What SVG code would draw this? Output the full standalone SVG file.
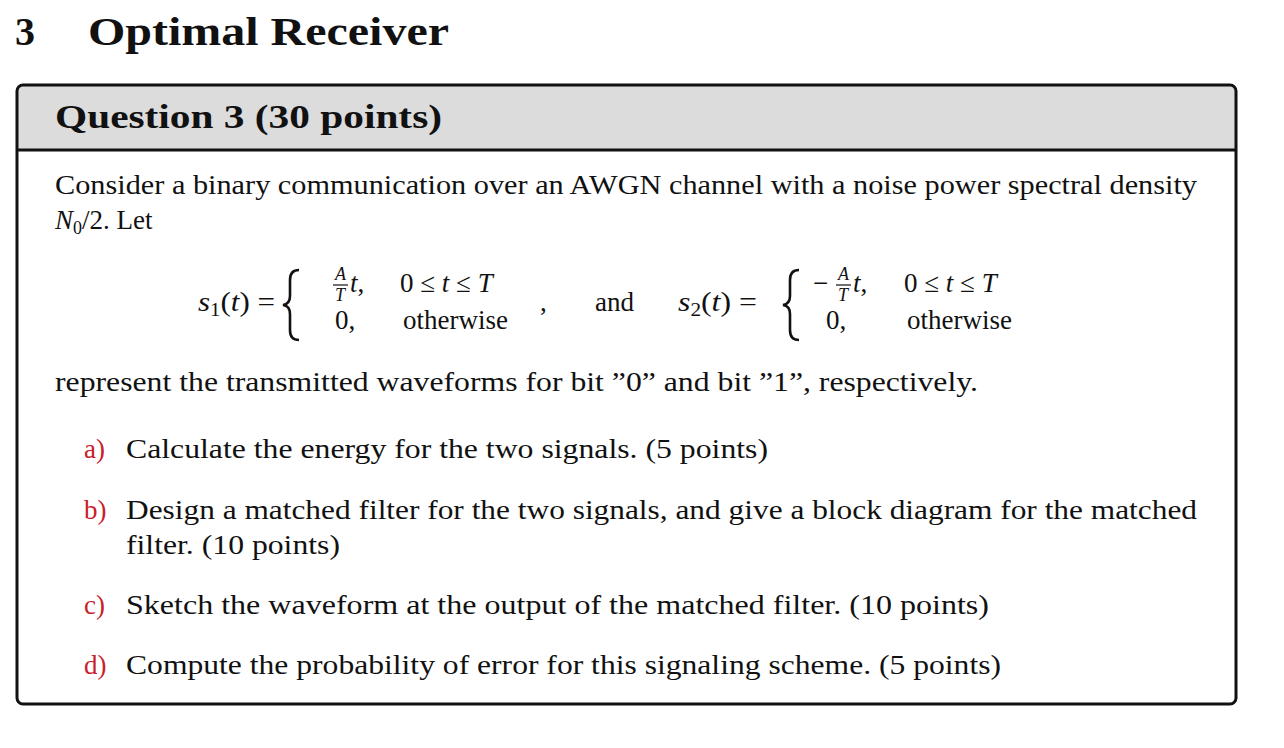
<svg xmlns="http://www.w3.org/2000/svg" width="1284" height="748" viewBox="0 0 1284 748">
<style>
text{font-family:"Liberation Serif","DejaVu Serif",serif;fill:#111}
.b{font-size:27px}
.i{font-style:italic}
.r{fill:#c8202a}
.h{font-weight:bold}
.s{font-size:18px}
.f{font-size:18px}
.br{fill:none;stroke:#111;stroke-width:2.6}
</style>
<rect width="1284" height="748" fill="#fff"/>
<text x="15" y="45" class="h" font-size="40">3</text>
<text x="88" y="45" class="h" font-size="40" textLength="361" lengthAdjust="spacingAndGlyphs">Optimal Receiver</text>
<g id="box">
<path d="M17,150 V91 a6,6 0 0 1 6,-6 H1230 a6,6 0 0 1 6,6 V150 Z" fill="#dcdcdc"/>
<rect x="17" y="85" width="1219" height="619" rx="6" fill="none" stroke="#111" stroke-width="3"/>
<line x1="17" y1="150" x2="1236" y2="150" stroke="#111" stroke-width="3"/>
<text x="55" y="128" class="h" font-size="33" textLength="387" lengthAdjust="spacingAndGlyphs">Question 3 (30 points)</text>
</g>
<text x="55" y="194" class="b" textLength="1142" lengthAdjust="spacingAndGlyphs">Consider a binary communication over an AWGN channel with a noise power spectral density</text>
<text x="55" y="229" class="b"><tspan class="i">N</tspan><tspan class="s" dy="5">0</tspan><tspan dy="-5">/2.  Let</tspan></text>
<g id="eq">
<text x="198" y="311" class="b" textLength="77" lengthAdjust="spacingAndGlyphs"><tspan class="i">s</tspan><tspan class="s" dy="5">1</tspan><tspan dy="-5">(</tspan><tspan class="i">t</tspan>) =</text>
<path class="br" d="M299,270 Q290,270 290,280 V296 Q290,304 283,305 Q290,306 290,314 V330 Q290,340 299,340"/>
<text x="335" y="280" class="f i">A</text><line x1="333" y1="285" x2="348" y2="285" stroke="#111" stroke-width="1.2"/><text x="335" y="301" class="f i">T</text>
<text x="350" y="292" class="b"><tspan class="i">t</tspan>,</text>
<text x="335" y="329" class="b">0,</text>
<text x="400" y="292" class="b">0 ≤ <tspan class="i">t</tspan> ≤ <tspan class="i">T</tspan></text>
<text x="403" y="329" class="b">otherwise</text>
<text x="540" y="311" class="b">,</text>
<text x="595" y="311" class="b">and</text>
<text x="678" y="311" class="b" textLength="79" lengthAdjust="spacingAndGlyphs"><tspan class="i">s</tspan><tspan class="s" dy="5">2</tspan><tspan dy="-5">(</tspan><tspan class="i">t</tspan>) =</text>
<path class="br" d="M799,270 Q790,270 790,280 V296 Q790,304 783,305 Q790,306 790,314 V330 Q790,340 799,340"/>
<text x="813" y="292" class="b">−</text>
<text x="838" y="280" class="f i">A</text><line x1="836" y1="285" x2="851" y2="285" stroke="#111" stroke-width="1.2"/><text x="838" y="301" class="f i">T</text>
<text x="853" y="292" class="b"><tspan class="i">t</tspan>,</text>
<text x="826" y="329" class="b">0,</text>
<text x="904" y="292" class="b">0 ≤ <tspan class="i">t</tspan> ≤ <tspan class="i">T</tspan></text>
<text x="907" y="329" class="b">otherwise</text>
</g>
<text x="55" y="391" class="b" textLength="923" lengthAdjust="spacingAndGlyphs">represent the transmitted waveforms for bit ”0” and bit ”1”, respectively.</text>
<text x="84" y="458" class="b r">a)</text>
<text x="126" y="458" class="b" textLength="642" lengthAdjust="spacingAndGlyphs">Calculate the energy for the two signals. (5 points)</text>
<text x="84" y="519" class="b r">b)</text>
<text x="126" y="519" class="b" textLength="1071" lengthAdjust="spacingAndGlyphs">Design a matched filter for the two signals, and give a block diagram for the matched</text>
<text x="126" y="554" class="b" textLength="214" lengthAdjust="spacingAndGlyphs">filter. (10 points)</text>
<text x="84" y="614" class="b r">c)</text>
<text x="126" y="614" class="b" textLength="863" lengthAdjust="spacingAndGlyphs">Sketch the waveform at the output of the matched filter. (10 points)</text>
<text x="84" y="674" class="b r">d)</text>
<text x="126" y="674" class="b" textLength="875" lengthAdjust="spacingAndGlyphs">Compute the probability of error for this signaling scheme. (5 points)</text>
</svg>
